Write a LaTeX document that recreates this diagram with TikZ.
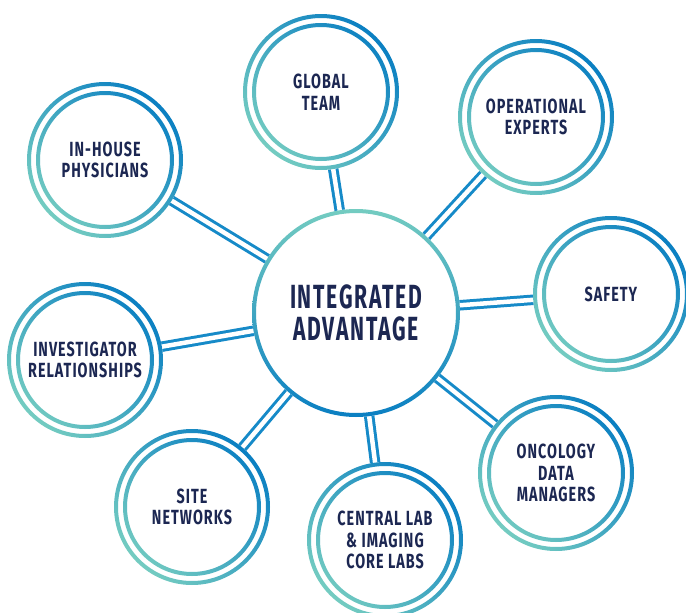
\documentclass[tikz,border=0pt]{standalone}
\usepackage{fontspec}
\setmainfont{Fira Sans}[FakeStretch=0.7, LetterSpace=5]
\newfontfamily\corefont{Fira Sans}[FakeStretch=0.63, LetterSpace=5]
\usetikzlibrary{backgrounds}

\definecolor{ringblue}{HTML}{0A7FC2}
\definecolor{ringteal}{HTML}{74CCC1}
\definecolor{linkblue}{HTML}{168AC8}
\definecolor{labelnavy}{HTML}{1C2752}

\tikzset{
  satellite/.style={circle, fill=white, inner sep=0pt, minimum size=156pt, align=center,
    font=\fontsize{20.5}{21.7}\selectfont\bfseries, text=labelnavy,
    path picture={
      \shade[top color=ringblue, bottom color=ringteal, shading angle=-45, even odd rule]
        (path picture bounding box.center) circle (78pt) circle (74pt) circle (69pt) circle (65pt);
    }},
  core/.style={circle, fill=white, inner sep=0pt, minimum size=208pt, align=center,
    font=\corefont\fontsize{33.5}{31.7}\selectfont\bfseries, text=labelnavy,
    path picture={
      \shade[top color=ringteal, bottom color=ringblue, even odd rule]
        (path picture bounding box.center) circle (104pt) circle (100pt);
    }},
  link/.style={draw=linkblue, line width=3pt, double=white, double distance=4.5pt,
    shorten <=-4pt, shorten >=-4pt}
}

\begin{document}
\begin{tikzpicture}[x=1pt, y=-1pt]
\useasboundingbox (0,0) rectangle (686,613);
% hub and spokes
\node[core] (core) at (356,313) {INTEGRATED\\ADVANTAGE};
\node[satellite] (team) at (321,92) {GLOBAL\\TEAM};
\node[satellite] (ops) at (536,117) {OPERATIONAL\\EXPERTS};
\node[satellite] (safety) at (611,294) {SAFETY};
\node[satellite] (onco) at (556,473) {ONCOLOGY\\DATA\\MANAGERS};
\node[satellite] (labs) at (385,540) {CENTRAL LAB\\\& IMAGING\\CORE LABS};
\node[satellite] (sites) at (192,507) {SITE\\NETWORKS};
\node[satellite] (invest) at (85,360) {INVESTIGATOR\\RELATIONSHIPS};
\node[satellite] (docs) at (105,160) {IN-HOUSE\\PHYSICIANS};
\begin{scope}[on background layer]
\foreach \sat in {team,ops,safety,onco,labs,sites,invest,docs}
  \draw[link] (core) -- (\sat);
\end{scope}
\end{tikzpicture}
\end{document}
